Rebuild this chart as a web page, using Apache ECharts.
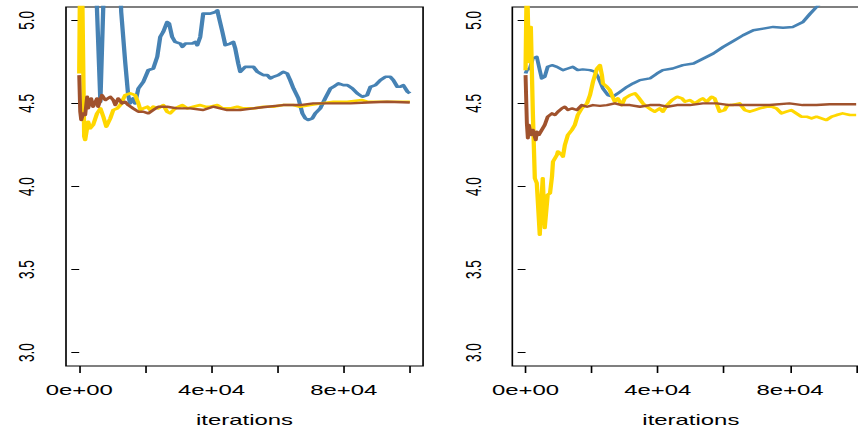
<!DOCTYPE html>
<html>
<head>
<meta charset="utf-8">
<script src="https://cdn.jsdelivr.net/npm/echarts@6/dist/echarts.min.js"></script>
<style>
html,body{margin:0;padding:0;background:#fff;overflow:hidden;width:858px;height:432px;}
#chart{width:540px;height:432px;transform:scaleX(1.65);transform-origin:0 0;}
</style>
</head>
<body>
<div id="chart"></div>
<script>
// ---- data: [iteration, value] ----
const leftBlue = [[0,5.3],[900,5.6],[4800,5.4],[5400,5.05],[6400,4.51],[7300,5.1],[8200,5.6],[11800,5.5],[12700,5.05],[13900,4.75],[14800,4.55],[15400,4.5],[16300,4.53],[16900,4.5],[17900,4.59],[19400,4.63],[20900,4.70],[22400,4.71],[23600,4.78],[24500,4.9],[25400,4.93],[26600,4.99],[27200,4.98],[28100,4.9],[29000,4.87],[30600,4.86],[31200,4.84],[32100,4.86],[34200,4.86],[35100,4.87],[35700,4.85],[36600,4.9],[37500,5.04],[39600,5.04],[41200,5.05],[41800,5.06],[42100,5.03],[43300,4.93],[44200,4.85],[45700,4.86],[46600,4.87],[47200,4.83],[48100,4.74],[48700,4.69],[50200,4.72],[52700,4.72],[53900,4.69],[54800,4.68],[55700,4.67],[56900,4.67],[57800,4.65],[58700,4.66],[60200,4.67],[61700,4.69],[62900,4.68],[63800,4.64],[64800,4.59],[66300,4.53],[67500,4.44],[68400,4.41],[69300,4.40],[70500,4.41],[71400,4.44],[72900,4.47],[74400,4.53],[76000,4.59],[76900,4.60],[78400,4.62],[79900,4.61],[81100,4.61],[82600,4.59],[84100,4.56],[85600,4.54],[87100,4.55],[88100,4.60],[89600,4.61],[91100,4.64],[92600,4.66],[94100,4.66],[95000,4.64],[96200,4.60],[97100,4.60],[98000,4.61],[99300,4.57],[100000,4.56]];
const leftGold = [[0,4.68],[300,5.4],[900,5.2],[1500,4.3],[1800,4.28],[2700,4.39],[3300,4.35],[4200,4.37],[5400,4.44],[6400,4.47],[7300,4.42],[8200,4.36],[9400,4.41],[10300,4.46],[11500,4.47],[12400,4.49],[13900,4.55],[15400,4.56],[16900,4.55],[17900,4.50],[18500,4.46],[19400,4.47],[20600,4.48],[21500,4.46],[22400,4.48],[23900,4.47],[25400,4.49],[26600,4.45],[27500,4.44],[29000,4.47],[31200,4.49],[32700,4.47],[34500,4.48],[36600,4.49],[38100,4.48],[39600,4.48],[41800,4.49],[43300,4.47],[45700,4.47],[47800,4.48],[49600,4.47],[52700,4.47],[55700,4.48],[58700,4.48],[61700,4.49],[64700,4.49],[66800,4.48],[69900,4.49],[72900,4.50],[76900,4.51],[81100,4.51],[85600,4.52],[87100,4.51],[91100,4.51],[95000,4.51],[100000,4.51]];
const leftBrown = [[0,4.67],[300,4.45],[600,4.40],[1200,4.44],[1800,4.43],[2400,4.54],[2700,4.47],[3600,4.53],[4200,4.48],[5400,4.53],[5700,4.48],[6900,4.55],[7900,4.52],[9400,4.54],[10300,4.52],[10900,4.49],[11800,4.53],[13000,4.50],[13900,4.51],[14800,4.49],[16300,4.47],[17900,4.45],[19400,4.45],[20900,4.44],[22400,4.46],[23900,4.48],[26600,4.48],[29600,4.47],[33600,4.47],[37500,4.46],[40500,4.48],[44800,4.46],[48700,4.46],[52700,4.47],[56900,4.48],[61700,4.49],[66800,4.49],[70800,4.50],[76900,4.50],[82000,4.50],[87100,4.505],[93100,4.51],[100000,4.505]];
const rightBlue = [[0,4.68],[400,4.70],[1300,4.71],[2200,4.77],[3400,4.78],[4300,4.70],[4900,4.65],[5800,4.66],[6700,4.72],[8000,4.73],[9500,4.72],[11300,4.70],[12800,4.71],[14300,4.72],[15800,4.70],[17300,4.705],[19500,4.70],[21000,4.69],[21900,4.66],[23400,4.59],[24900,4.55],[26400,4.54],[27900,4.56],[30700,4.60],[32500,4.62],[34600,4.64],[37600,4.65],[39800,4.68],[41500,4.70],[44500,4.71],[47600,4.73],[50800,4.74],[53800,4.77],[56800,4.80],[59800,4.84],[62800,4.875],[65800,4.91],[68900,4.94],[71900,4.95],[74900,4.96],[77900,4.955],[80900,4.96],[83900,4.99],[86100,5.04],[88000,5.08],[90000,5.12],[95000,5.18],[100000,5.24]];
const rightGold = [[0,4.70],[400,5.3],[1000,4.75],[1600,4.96],[2200,4.45],[2800,4.05],[3400,4.02],[4300,3.71],[4900,3.95],[5200,4.05],[5800,3.75],[6700,3.95],[7400,3.96],[8000,4.06],[8300,4.15],[9500,4.19],[9800,4.21],[11000,4.19],[11300,4.18],[11900,4.25],[12800,4.31],[14000,4.34],[14900,4.37],[15800,4.43],[17000,4.47],[18600,4.50],[19500,4.55],[20400,4.63],[21600,4.71],[22500,4.73],[23100,4.67],[23400,4.62],[24600,4.60],[25500,4.58],[26100,4.55],[27000,4.51],[27900,4.53],[29100,4.49],[30000,4.53],[31600,4.55],[33100,4.56],[34000,4.54],[35500,4.50],[36700,4.48],[38200,4.46],[39100,4.45],[40600,4.47],[41500,4.45],[42800,4.49],[44300,4.52],[45800,4.54],[47300,4.53],[48200,4.51],[49700,4.52],[51200,4.50],[52700,4.52],[53600,4.53],[54800,4.51],[56300,4.54],[57200,4.53],[58700,4.45],[60200,4.46],[61100,4.49],[62600,4.49],[64700,4.50],[66300,4.46],[67800,4.45],[69300,4.46],[70800,4.47],[72900,4.48],[74400,4.48],[75900,4.47],[77400,4.44],[78900,4.45],[80400,4.46],[81900,4.44],[83400,4.42],[85000,4.42],[86500,4.41],[88000,4.42],[89500,4.41],[91000,4.40],[92600,4.42],[94100,4.43],[95900,4.44],[98100,4.43],[100000,4.43]];
const rightBrown = [[0,4.67],[400,4.38],[700,4.29],[1000,4.37],[1600,4.31],[2200,4.34],[3100,4.28],[3400,4.33],[4000,4.31],[4900,4.34],[5800,4.37],[6700,4.42],[8000,4.44],[8900,4.43],[9800,4.45],[11000,4.47],[11900,4.48],[12800,4.46],[14000,4.47],[15500,4.46],[17000,4.49],[18600,4.48],[20400,4.49],[22500,4.485],[24600,4.49],[27000,4.50],[29100,4.49],[31600,4.49],[34600,4.48],[37600,4.49],[40600,4.49],[42800,4.48],[45800,4.49],[49700,4.49],[53600,4.50],[57800,4.50],[61700,4.49],[65700,4.49],[69900,4.49],[73800,4.49],[79800,4.50],[83800,4.49],[88000,4.49],[92000,4.495],[95900,4.495],[100000,4.495]];

// ---- axes ----
const xTickValues = [0, 20000, 40000, 60000, 80000, 100000];
const xLabelValues = [0, 40000, 80000];
const xTickLabels = ['0e+00', '4e+04', '8e+04'];
const yTickValues = [3.0, 3.5, 4.0, 4.5, 5.0];
const yTickLabels = ['3.0', '3.5', '4.0', '4.5', '5.0'];
const xName = 'iterations';

const colBlue = '#4682B4', colGold = '#FFD700', colBrown = '#A0522D';
const FONT = '"Liberation Sans", Arial, Helvetica, sans-serif';

const chart = echarts.init(document.getElementById('chart'), null, {renderer: 'svg'});

function xAxisFor(gi) {
  return {
    type: 'value', gridIndex: gi, min: -4000, max: 104000,
    axisLine: {show: false},
    splitLine: {show: false},
    axisTick: {show: true, length: 7, customValues: xTickValues, lineStyle: {color: '#000', width: 1}},
    axisLabel: {
      customValues: xLabelValues, margin: 16, color: '#000', fontSize: 14.5, fontFamily: FONT,
      formatter: v => xTickLabels[xLabelValues.indexOf(v)] || ''
    },
    name: xName, nameLocation: 'middle', nameGap: 46,
    nameTextStyle: {color: '#000', fontSize: 14.5, fontFamily: FONT}
  };
}
function yAxisFor(gi) {
  return {
    type: 'value', gridIndex: gi, min: 2.92, max: 5.08,
    axisLine: {show: false},
    splitLine: {show: false},
    axisTick: {show: true, length: 4.8, customValues: yTickValues, lineStyle: {color: '#000', width: 1}},
    axisLabel: {
      customValues: yTickValues, rotate: 90, margin: 17, color: '#000', fontSize: 13.5, fontFamily: FONT,
      formatter: v => yTickLabels[yTickValues.indexOf(v)] || ''
    }
  };
}
function line(data, color, gi, w) {
  return {
    type: 'line', data: data, xAxisIndex: gi, yAxisIndex: gi,
    showSymbol: false, symbol: 'none', clip: true, animation: false,
    lineStyle: {color: color, width: w, join: 'round'}
  };
}

chart.setOption({
  animation: false,
  backgroundColor: '#fff',
  grid: [
    {left: 40.0, top: 7, width: 216.4, height: 364, show: true, borderColor: '#000', borderWidth: 1, containLabel: false},
    {left: 310.5, top: 7, width: 216.4, height: 364, show: true, borderColor: '#000', borderWidth: 1, containLabel: false}
  ],
  xAxis: [xAxisFor(0), xAxisFor(1)],
  yAxis: [yAxisFor(0), yAxisFor(1)],
  series: [
    line(leftBlue, colBlue, 0, 2.6),
    line(leftGold, colGold, 0, 2.6),
    line(leftBrown, colBrown, 0, 2.4),
    line(rightBlue, colBlue, 1, 2.4),
    line(rightGold, colGold, 1, 2.6),
    line(rightBrown, colBrown, 1, 2.4)
  ]
});
</script>
</body>
</html>
